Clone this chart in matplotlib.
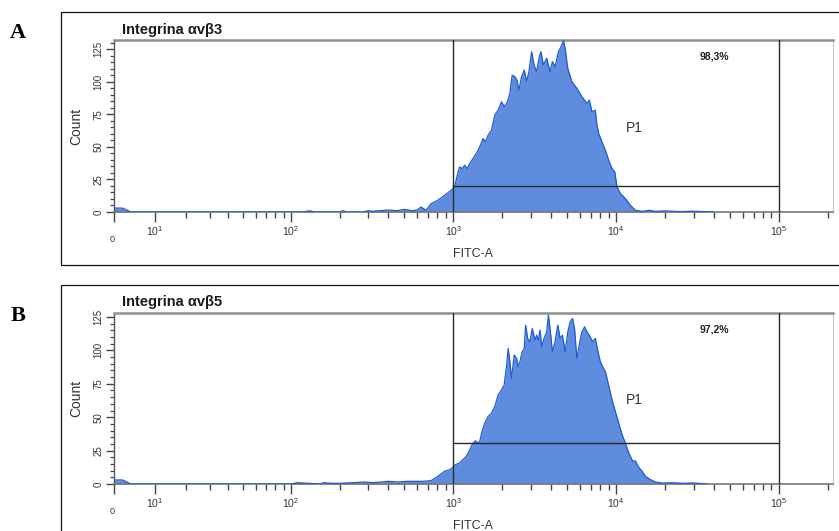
import numpy as np
import matplotlib
matplotlib.use("Agg")
import matplotlib.pyplot as plt
from matplotlib.patches import Rectangle

# ---------------- data ----------------
titles = ["Integrina αvβ3", "Integrina αvβ5"]
panel_letters = ["A", "B"]
gate_percent = ["98,3%", "97,2%"]
gate_name = "P1"
gate_low = 1000
gate_high = 100000
gate_level = [20, 31]
y_max = [132, 128]
y_ticks = [0, 25, 50, 75, 100, 125]
x_decades = [1, 2, 3, 4, 5]
x_label = "FITC-A"
y_label = "Count"

a_fitc = [0, 2, 4, 120, 130, 140, 200, 210, 220, 280, 300, 320, 350, 400, 450, 500,
          560, 600, 634, 681, 731, 804, 884, 972, 1019, 1059, 1094, 1131, 1175, 1220,
          1261, 1323, 1387, 1454, 1525, 1576, 1637, 1717, 1800, 1887, 1979, 2055,
          2154, 2227, 2302, 2391, 2460, 2531, 2629, 2731, 2823, 2917, 3030, 3132,
          3252, 3362, 3459, 3576, 3750, 3932, 4064, 4222, 4426, 4598, 4753, 4865,
          5055, 5352, 5745, 6168, 6622, 6847, 7111, 7455, 7634, 7817, 8197, 8594,
          9011, 9448, 9813, 10143, 10636, 11418, 12259, 13160, 14473, 15910, 17490,
          20000, 25000, 30000, 40000]
a_count = [3, 3, 0, 0, 1, 0, 0, 1, 0, 0, 1, 0.5, 1, 1.5, 1, 2,
           1, 1.5, 3.8, 1.3, 6.4, 9.0, 12.8, 16.7, 19.2, 28.2, 34.6, 33.3, 35.9, 33.3,
           37.2, 41.0, 44.9, 50.0, 56.4, 53.8, 59.0, 62.8, 74.4, 78.2, 84.6, 80.8,
           84.6, 91.0, 105.0, 103.8, 101.3, 93.6, 103.8, 109.0, 100.0, 107.7, 123.0, 112.8,
           107.7, 118.0, 123.0, 112.8, 118.0, 107.7, 115.4, 111.5, 123.0, 127.0, 131.3, 125.6,
           110.0, 100.0, 94.9, 88.5, 83.3, 85.9, 76.9, 78.2, 66.7, 60.3, 53.8, 47.4,
           39.7, 33.3, 30.8, 19.2, 14.1, 10.3, 5.1, 1.3, 0.5, 1.3, 0.5,
           0.8, 0.3, 0.6, 0]

b_fitc = [0, 2, 4, 100, 110, 150, 160, 177, 200, 240, 284, 320, 360, 400, 455, 520,
          577, 650, 731, 804, 884, 949, 995, 1029, 1094, 1147, 1203, 1261, 1323, 1367,
          1420, 1454, 1503, 1561, 1637, 1717, 1800, 1887, 1979, 2055, 2124, 2175,
          2227, 2280, 2369, 2448, 2507, 2567, 2653, 2731, 2783, 2863, 2959, 3059,
          3177, 3252, 3331, 3411, 3493, 3611, 3750, 3840, 3932, 4064, 4222, 4385,
          4533, 4686, 4865, 5055, 5226, 5402, 5557, 5745, 5939, 6168, 6408, 6622,
          6847, 7178, 7455, 7745, 8006, 8275, 8594, 8800, 9096, 9448, 9906, 10387,
          10890, 11418, 11862, 12259, 12683, 13160, 13479, 13932, 14473, 15170,
          16286, 17490, 19230, 22000, 26000, 30000, 36000]
b_count = [3, 3, 0, 0, 1, 0, 1, 0.5, 0.5, 1, 1.5, 1, 1.5, 2, 1.5, 2,
           2, 2, 2.5, 5.7, 9.5, 10.7, 12.4, 14.4, 15.7, 18.2, 20.6, 25.6, 30.6, 32.3,
           30.6, 31.8, 39.3, 45.5, 50.5, 53.0, 58.0, 66.7, 70.4, 74.1, 87.8, 101.5,
           91.5, 79.1, 96.5, 94.0, 87.8, 91.5, 99.0, 101.5, 118.9, 109.0, 106.5, 116.4,
           107.7, 111.4, 107.7, 115.2, 102.7, 109.0, 113.9, 126.4, 116.4, 99.0, 106.5, 118.9,
           109.0, 111.4, 99.0, 113.9, 121.4, 123.9, 116.4, 94.0, 104.0, 113.9, 117.7, 113.9,
           111.4, 106.5, 109.0, 99.0, 91.5, 87.8, 84.1, 79.1, 71.6, 62.9, 54.2, 45.5,
           36.8, 30.6, 24.4, 20.6, 16.9, 17.4, 14.4, 11.9, 9.5, 5.7,
           3.2, 1.5, 0.7, 1.0, 0.5, 0.8, 0]

fitc_series = [a_fitc, b_fitc]
count_series = [a_count, b_count]

# ---------------- style ----------------
FILL = "#5f8cdc"
EDGE = "#1d5ad4"
W, H = 839, 531
C = 16.5
X_MAX = 2.15e5


def fwd(x):
    return np.arcsinh(np.asarray(x, dtype=float) / C)


def inv(y):
    return C * np.sinh(np.asarray(y, dtype=float))


plt.rcParams["font.family"] = ["Liberation Sans", "DejaVu Sans"]
plt.rcParams["mathtext.fontset"] = "custom"
plt.rcParams["mathtext.rm"] = "Liberation Sans"
plt.rcParams["mathtext.it"] = "Liberation Sans"
fig = plt.figure(figsize=(W / 100, H / 100), dpi=100)

# panel geometry in pixels: (axes top, axes bottom, box top, box bottom, title y, letter y)
geom = [(40, 212, 12, 265, 30, 33), (313, 484, 285, 560, 302, 316)]
ax_left, ax_right = 114, 833

for i in range(2):
    top, bot, btop, bbot, ty, ly = geom[i]
    ah = bot - top
    ax = fig.add_axes([ax_left / W, 1 - bot / H, (ax_right - ax_left) / W, ah / H])
    ax.set_xscale("function", functions=(fwd, inv))
    ax.set_xlim(0, X_MAX)
    ax.set_ylim(0, y_max[i])

    x = np.array(fitc_series[i])
    y = np.array(count_series[i])
    ax.fill_between(x, y, 0, color=FILL, lw=0, zorder=2)
    ax.plot(x, y, color=EDGE, lw=0.9, zorder=3)

    # gate P1
    gc = "#2a2a2a"
    ax.axvline(gate_low, color=gc, lw=1.0, zorder=4)
    ax.axvline(gate_high, color=gc, lw=1.0, zorder=4)
    ax.plot([gate_low, gate_high], [gate_level[i], gate_level[i]], color=gc, lw=1.0, zorder=4)
    ax.text(4.0e4, 1 - 17 / ah, gate_percent[i], transform=ax.get_xaxis_transform(),
            fontsize=7.5, fontweight="bold", color="#222222", ha="center", va="center")
    ax.text(1.3e4, 1 - (88 if i == 0 else 87) / ah, gate_name,
            transform=ax.get_xaxis_transform(), fontsize=10, color="#333333",
            ha="center", va="center", zorder=5)

    # ticks
    ax.set_xticks([0] + [10 ** d for d in x_decades])
    ax.set_xticklabels([""] + [r"$\mathregular{10^{%d}}$" % d for d in x_decades])
    minors = [m * 10 ** k for k in range(1, 6) for m in range(2, 10) if m * 10 ** k <= X_MAX]
    ax.set_xticks(minors, minor=True)
    ax.set_yticks(y_ticks)
    ax.set_yticklabels([str(t) for t in y_ticks])
    ax.set_yticks(np.arange(0, y_max[i], 5), minor=True)
    ax.tick_params(axis="x", which="major", length=7, width=1.0, color="#444444",
                   labelsize=7.5, labelcolor="#333333", pad=2)
    ax.tick_params(axis="x", which="minor", length=4, width=1.0, color="#444444")
    ax.tick_params(axis="y", which="major", length=6, width=1.0, color="#444444",
                   labelsize=7, labelcolor="#333333", pad=1.5, labelrotation=90)
    ax.tick_params(axis="y", which="minor", length=3, width=0.9, color="#444444")
    for lab in ax.get_yticklabels():
        lab.set_va("center")
    ax.text(-0.002, -28 / ah, "0", transform=ax.transAxes, fontsize=6.5,
            color="#333333", ha="center", va="center")

    ax.set_xlabel(x_label, fontsize=9, color="#333333")
    ax.xaxis.set_label_coords((473 - ax_left) / (ax_right - ax_left), -36 / ah)
    ax.set_ylabel(y_label, fontsize=10, color="#333333")
    ax.yaxis.set_label_coords(-(ax_left - 83) / (ax_right - ax_left), 0.5)

    ax.spines["top"].set_color("#8f8f8f")
    ax.spines["top"].set_linewidth(1.8)
    ax.spines["left"].set_color("#555555")
    ax.spines["left"].set_linewidth(1.0)
    ax.spines["bottom"].set_color("#777777")
    ax.spines["bottom"].set_linewidth(1.2)
    ax.spines["right"].set_color("#c8c8c8")
    ax.spines["right"].set_linewidth(0.8)

    # outer box
    fig.add_artist(Rectangle((61 / W, 1 - bbot / H), 1.2, (bbot - btop) / H,
                             transform=fig.transFigure, fill=False, ec="#111111", lw=0.9))
    fig.text(122 / W, 1 - ty / H, titles[i], fontsize=10.5, fontweight="bold",
             color="#1a1a1a", ha="left", va="center")
    fig.text(18 / W, 1 - ly / H, panel_letters[i], fontsize=16, fontweight="bold",
             family=["Liberation Serif", "DejaVu Serif"], ha="center", va="center")

fig.savefig("out.png", dpi=100)
